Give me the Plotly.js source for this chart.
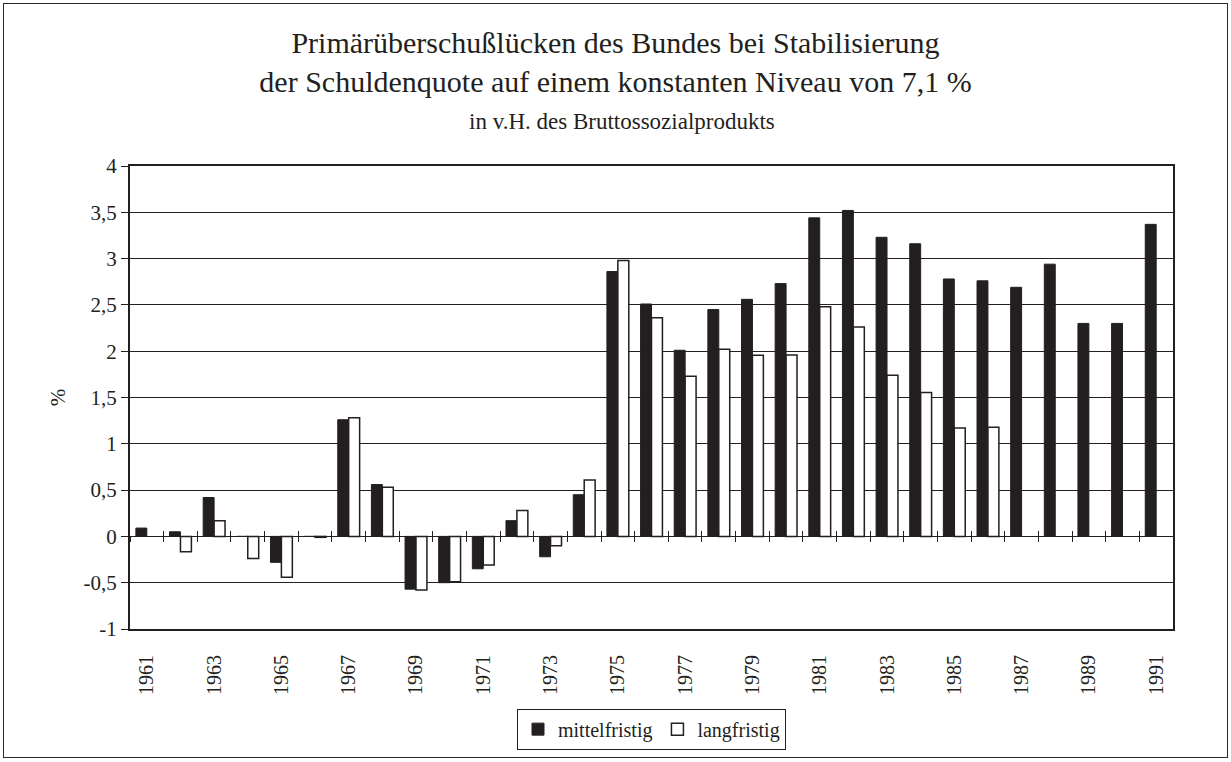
<!DOCTYPE html>
<html>
<head>
<meta charset="utf-8">
<script src="https://cdn.plot.ly/plotly-3.0.1.min.js"></script>
<style>
  html, body { margin: 0; padding: 0; background: #fff; }
  #chart { width: 1231px; height: 762px; }
  #frame { position: absolute; left: 3px; top: 3px; width: 1223px; height: 753px;
           border: 1.5px solid #2a2a2a; pointer-events: none; }
</style>
</head>
<body>
<div id="chart"></div>
<div id="frame"></div>
<script>
const years = [1961,1962,1963,1964,1965,1966,1967,1968,1969,1970,1971,1972,1973,1974,1975,1976,1977,1978,1979,1980,1981,1982,1983,1984,1985,1986,1987,1988,1989,1990,1991];
const mittelfristig = [0.09,0.05,0.42,0,-0.28,0,1.26,0.56,-0.57,-0.5,-0.35,0.17,-0.22,0.45,2.86,2.51,2.01,2.45,2.56,2.73,3.44,3.52,3.23,3.16,2.78,2.76,2.69,2.94,2.30,2.30,3.37];
const langfristig = [null,-0.165,0.17,-0.24,-0.44,-0.01,1.28,0.53,-0.58,-0.49,-0.31,0.28,-0.10,0.61,2.98,2.36,1.73,2.02,1.955,1.96,2.48,2.26,1.74,1.555,1.17,1.18,null,null,null,null,null];
const yTickVals = [-1,-0.5,0,0.5,1,1.5,2,2.5,3,3.5,4];
const yTickText = ['-1','-0,5','0','0,5','1','1,5','2','2,5','3','3,5','4'];
const seriesNames = ['mittelfristig','langfristig'];

const ink = '#231f20';
const serif = 'Liberation Serif, Times New Roman, serif';

const traces = [
  { type: 'bar', name: seriesNames[0], x: years, y: mittelfristig,
    marker: { color: ink, line: { color: ink, width: 1 } }, hoverinfo: 'x+y' },
  { type: 'bar', name: seriesNames[1], x: years, y: langfristig,
    marker: { color: '#ffffff', line: { color: ink, width: 1.5 } }, hoverinfo: 'x+y' },
  { type: 'scatter', mode: 'none', x: years, y: mittelfristig, xaxis: 'x2', yaxis: 'y',
    showlegend: false, hoverinfo: 'skip' },
  { type: 'scatter', mode: 'none', x: years, y: mittelfristig, xaxis: 'x3', yaxis: 'y',
    showlegend: false, hoverinfo: 'skip' }
];

const xr = [years[0] - 0.5, years[years.length - 1] + 0.5];
const tickAxis = (dir) => ({
  overlaying: 'x', anchor: 'free', position: 0.2, range: xr, type: 'linear',
  tickmode: 'linear', tick0: xr[0], dtick: 1, ticks: dir, ticklen: 5, tickwidth: 1,
  tickcolor: ink, showticklabels: false, showgrid: false, zeroline: false, showline: false,
  fixedrange: true
});

const layout = {
  width: 1231, height: 762,
  margin: { l: 130, r: 58, t: 166, b: 131 },
  paper_bgcolor: '#ffffff', plot_bgcolor: '#ffffff',
  font: { family: serif, color: ink, size: 20 },
  title: {
    text: 'Primärüberschußlücken des Bundes bei Stabilisierung<br>der Schuldenquote auf einem konstanten Niveau von 7,1 %',
    font: { family: serif, size: 30, color: ink },
    x: 0.5, xref: 'container', xanchor: 'center',
    y: 1 - 53 / 762, yref: 'container', yanchor: 'top'
  },
  annotations: [{
    text: 'in v.H. des Bruttossozialprodukts', xref: 'paper', yref: 'paper',
    x: 0.472, y: 1 + 30 / 465, xanchor: 'center', yanchor: 'bottom', showarrow: false,
    font: { family: serif, size: 23, color: ink }
  }],
  barmode: 'group', bargap: 0.35, bargroupgap: 0,
  showlegend: true,
  legend: {
    orientation: 'h', x: 0.5, xanchor: 'center', y: -0.172, yanchor: 'top',
    bordercolor: ink, borderwidth: 1, bgcolor: '#ffffff',
    font: { family: serif, size: 20, color: ink }, itemwidth: 30, traceorder: 'normal'
  },
  xaxis: {
    type: 'linear', range: xr, tickmode: 'linear', tick0: years[0], dtick: 2,
    tickangle: -90, ticks: '', ticklabelstandoff: 16,
    tickfont: { family: serif, size: 20, color: ink },
    showgrid: false, zeroline: false, showline: true, mirror: true,
    linecolor: ink, linewidth: 2, fixedrange: true
  },
  xaxis2: tickAxis('outside'),
  xaxis3: tickAxis('inside'),
  yaxis: {
    range: [-1, 4], tickmode: 'array', tickvals: yTickVals, ticktext: yTickText,
    ticks: 'outside', ticklen: 7, tickwidth: 1, tickcolor: ink,
    tickfont: { family: serif, size: 21, color: ink },
    showgrid: true, gridcolor: ink, gridwidth: 1,
    zeroline: true, zerolinecolor: ink, zerolinewidth: 1,
    showline: true, mirror: true, linecolor: ink, linewidth: 2,
    title: { text: '%', standoff: 12, font: { family: serif, size: 21, color: ink } },
    fixedrange: true
  }
};

Plotly.newPlot('chart', traces, layout, { displayModeBar: false, staticPlot: true });
</script>
</body>
</html>
